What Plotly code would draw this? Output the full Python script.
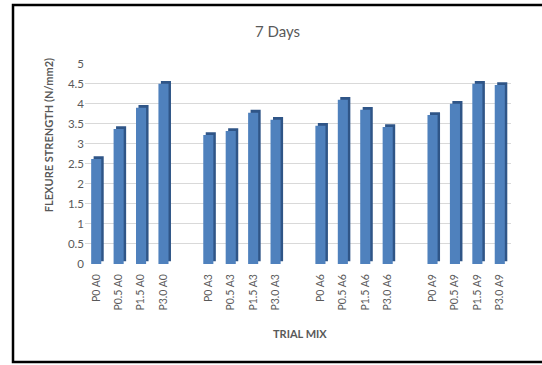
import plotly.graph_objects as go

# ---- data ----
categories = ["P0 A0", "P0.5 A0", "P1.5 A0", "P3.0 A0",
              "P0 A3", "P0.5 A3", "P1.5 A3", "P3.0 A3",
              "P0 A6", "P0.5 A6", "P1.5 A6", "P3.0 A6",
              "P0 A9", "P0.5 A9", "P1.5 A9", "P3.0 A9"]
group_of = [0, 0, 0, 0, 1, 1, 1, 1, 2, 2, 2, 2, 3, 3, 3, 3]
strength = [2.62, 3.37, 3.9, 4.5,
            3.22, 3.32, 3.78, 3.6,
            3.45, 4.1, 3.85, 3.42,
            3.72, 4.0, 4.5, 4.47]
y_ticks = [0, 0.5, 1, 1.5, 2, 2.5, 3, 3.5, 4, 4.5, 5]

# slot positions: one empty slot between groups
pos = [i + g for i, g in enumerate(group_of)]

FRONT = "#4F81BD"
SIDE = "#2F5587"
TXT = "#595959"
FONT = "Lato, Open Sans, sans-serif"

fig = go.Figure()
# back/side face to fake the 3D column look
fig.add_trace(go.Bar(x=[p + 0.11 for p in pos], y=strength, base=0.07,
                     width=0.45, marker=dict(color=SIDE, line=dict(width=0)),
                     hoverinfo="skip", showlegend=False))
# front face
fig.add_trace(go.Bar(x=pos, y=strength, width=0.45,
                     marker=dict(color=FRONT, line=dict(width=0)),
                     showlegend=False,
                     hovertext=categories, hoverinfo="text+y"))

fig.update_layout(
    width=542, height=365,
    barmode="overlay",
    paper_bgcolor="white", plot_bgcolor="white",
    margin=dict(l=85, r=31, t=63, b=101, autoexpand=False),
    font=dict(family=FONT, color=TXT),
    title=dict(text="7 Days", x=0.512, xanchor="center", y=0.913, yanchor="middle",
               font=dict(size=15, color=TXT, family=FONT)),
    xaxis=dict(range=[-0.5, 18.5], tickmode="array", tickvals=pos, ticktext=categories,
               tickangle=-90, tickfont=dict(size=10.5, color=TXT), showgrid=False,
               zeroline=False, showline=False, ticks="", automargin=False,
               ticklabelstandoff=7),
    yaxis=dict(range=[0, 5.02], tickmode="array", tickvals=y_ticks,
               ticktext=[f"{v:g}" for v in y_ticks],
               tickfont=dict(size=11.5, color=TXT), showgrid=True, gridcolor="#D9D9D9",
               gridwidth=1, zeroline=False, showline=False, ticks="", ticklen=0,
               automargin=False),
    annotations=[
        dict(text="<b>TRIAL MIX</b>", xref="paper", yref="paper", x=0.505, y=-0.345,
             xanchor="center", yanchor="middle", showarrow=False,
             font=dict(size=11, color=TXT, family=FONT)),
        dict(text="<b>FLEXURE STRENGTH (N/mm2)</b>", xref="paper", yref="paper",
             x=-0.085, y=0.64, xanchor="center", yanchor="middle", textangle=-90,
             showarrow=False, font=dict(size=11, color=TXT, family=FONT)),
    ],
    shapes=[
        dict(type="rect", xref="paper", yref="paper", x0=-0.169, x1=1.2,
             y0=-0.488, y1=1.289, line=dict(color="black", width=2.5),
             fillcolor="rgba(0,0,0,0)", layer="above"),
    ],
)

fig.write_html("out.html", config={"displayModeBar": False},
               post_script="document.body.style.margin='0px';document.body.style.overflow='hidden';")
